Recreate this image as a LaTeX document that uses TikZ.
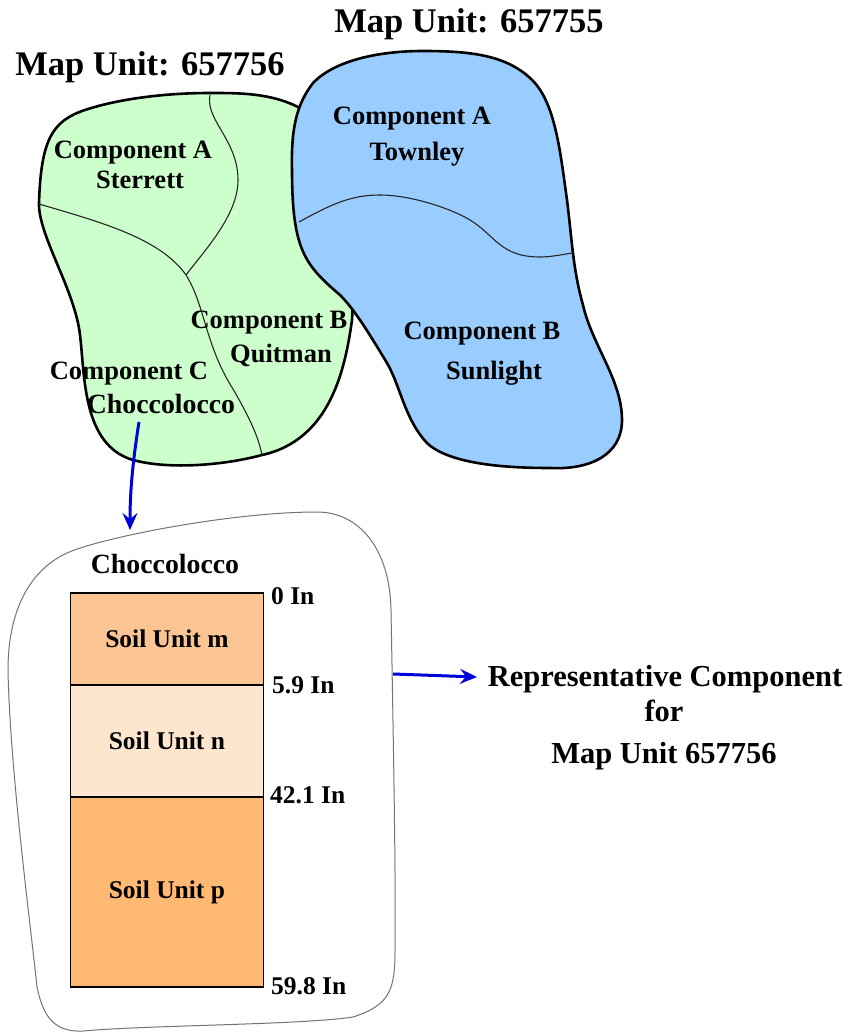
\documentclass[tikz,border=0pt]{standalone}
\usepackage{fontspec}
\setmainfont{Liberation Serif}
\usetikzlibrary{arrows.meta}
\tikzset{
    x=1pt,y=-1pt,
    >={Stealth[length=17pt,width=15pt,inset=6pt]},
    mapunit/.style={anchor=base,inner sep=0,font=\fontsize{34.5}{34.5}\bfseries},
    comp/.style={anchor=base,inner sep=0,font=\fontsize{26.5}{26.5}\bfseries},
    compwide/.style={comp,font=\fontsize{27.8}{27.8}\bfseries},
    depth/.style={anchor=base west,inner sep=0,font=\fontsize{25.5}{25.5}\bfseries},
    rep/.style={anchor=base,inner sep=0,font=\fontsize{30.5}{30.5}\bfseries},
    soilbox/.style={draw=black,line width=1.8pt,minimum width=193pt,anchor=north west,
        inner sep=0,font=\fontsize{25.5}{25.5}\bfseries},
    blob/.style={draw=black,line width=2.6pt},
    border/.style={draw=black!85,line width=1.1pt},
    link/.style={->,draw=blue!85!black,line width=3pt},
}
\definecolor{greenmap}{RGB}{204,255,204}
\definecolor{bluemap}{RGB}{153,204,255}
\definecolor{soilm}{RGB}{250,197,147}
\definecolor{soiln}{RGB}{253,230,206}
\definecolor{soilp}{RGB}{255,185,115}
\begin{document}
\begin{tikzpicture}
\useasboundingbox (0,0) rectangle (851,1032);
\path[blob,fill=greenmap]
      (210,93) .. controls (160,93) and (115,100) .. (85,110)
    .. controls (52,121) and (41,140) .. (39,203)
    .. controls (38,235) and (75,290) .. (80,335)
    .. controls (85,375) and (82,445) .. (133,460)
    .. controls (170,470) and (225,465) .. (262,455)
    .. controls (330,440) and (345,370) .. (352,320)
    .. controls (355,280) and (340,130) .. (298,107)
    .. controls (270,93) and (240,93) .. (210,93) -- cycle;
\draw[border]
      (210,95) .. controls (205,120) and (238,140) .. (238,180)
    .. controls (238,215) and (205,250) .. (186,275);
\draw[border]
      (39,204) .. controls (100,222) and (160,238) .. (186,275)
    .. controls (205,305) and (205,345) .. (233,389)
    .. controls (248,415) and (258,435) .. (262,455);
\path[blob,fill=bluemap]
      (423,51) .. controls (470,51) and (505,55) .. (530,78)
    .. controls (555,100) and (560,150) .. (567,200)
    .. controls (572,240) and (573,270) .. (583,305)
    .. controls (592,345) and (622,380) .. (622,420)
    .. controls (622,455) and (590,470) .. (550,468)
    .. controls (510,468) and (450,465) .. (427,443)
    .. controls (405,420) and (400,385) .. (387,363)
    .. controls (370,335) and (355,310) .. (340,295)
    .. controls (305,265) and (292,250) .. (292,170)
    .. controls (291,130) and (296,105) .. (313,83)
    .. controls (335,60) and (380,51) .. (423,51) -- cycle;
\draw[border]
      (299,222) .. controls (330,205) and (350,195) .. (380,195)
    .. controls (410,195) and (450,208) .. (470,220)
    .. controls (495,235) and (500,257) .. (540,257)
    .. controls (550,257) and (560,255) .. (572,253);
\path[draw=black!55,line width=1pt,fill=white]
      (317,512) .. controls (360,512) and (390,550) .. (391,610)
    .. controls (393,720) and (396,880) .. (395,950)
    .. controls (395,990) and (390,1005) .. (353,1017)
    .. controls (300,1025) and (150,1025) .. (83,1031)
    .. controls (50,1033) and (42,1010) .. (37,987)
    .. controls (30,920) and (10,770) .. (8,670)
    .. controls (8,610) and (30,570) .. (67,553)
    .. controls (100,538) and (230,512) .. (317,512) -- cycle;
\node[mapunit] (unita) at (150,76) {Map Unit: 657756};
\node[mapunit] (unitb) at (469,33) {Map Unit: 657755};
\node[comp] (sterrettc) at (133,159) {Component A};
\node[comp] (sterrett)  at (140,189) {Sterrett};
\node[comp] (quitmanc)  at (269,328) {Component B};
\node[comp] (quitman)   at (281,362) {Quitman};
\node[comp] (choccoc)   at (129,379) {Component C};
\node[compwide] (chocco)  at (161,413) {Choccolocco};
\node[comp] (townleyc)  at (412,125) {Component A};
\node[comp] (townley)   at (417,161) {Townley};
\node[comp] (sunlightc) at (482,339) {Component B};
\node[comp] (sunlight)  at (494,379) {Sunlight};
\node[compwide] (profile) at (165,573) {Choccolocco};
\node[soilbox,fill=soilm,minimum height=92pt]  (soilm) at (69.5,592) {Soil Unit m};
\node[soilbox,fill=soiln,minimum height=112pt] (soiln) at (69.5,684) {Soil Unit n};
\node[soilbox,fill=soilp,minimum height=190pt] (soilp) at (69.5,796) {Soil Unit p};
\node[depth] (deptha) at (271,604) {0 In};
\node[depth] (depthb) at (272,693) {5.9 In};
\node[depth] (depthc) at (270,803) {42.1 In};
\node[depth] (depthd) at (271,994) {59.8 In};
\node[rep] (repa) at (665,686) {Representative Component};
\node[rep] (repb) at (664,721) {for};
\node[rep] (repc) at (664,763) {Map Unit 657756};
\coordinate (chocout) at (139,422);
\coordinate (chocin)  at (130,530);
\coordinate (repout)  at (393,674);
\coordinate (repin)   at (477,677);
\draw[link] (chocout) .. controls (133,460) and (130,490) .. (chocin);
\draw[link] (repout) -- (repin);
\end{tikzpicture}
\end{document}
